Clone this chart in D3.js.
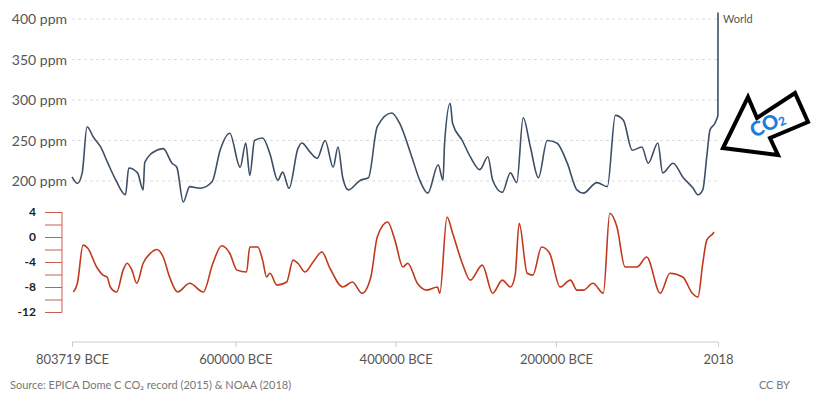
<!DOCTYPE html>
<html>
<head>
<meta charset="utf-8">
<script src="https://cdn.jsdelivr.net/npm/d3@7"></script>
<style>
  body { margin: 0; background: #fff; font-family: Lato, "Open Sans", sans-serif; }
</style>
</head>
<body>
<svg id="chart" width="813" height="411"></svg>
<script>
// thousands of years before 2018 -> value
var co2Kyr = [805.7,799,793,787,779,770,761,751,739,735,724,717,715,700,692,681,675,667,659,646,631,621,609,596,589,584,578,568,559,549,543,535,524,519,509,500,490,480,474,468,461,446,436,425,407,397,382,372,362,349,343,341,334,331,319,309,297,287,281,269,259,251,243,234,224,213,201,188,176,168,151,138,128,118,107,95,87,75,69,56,44,31,25,19,14,10,4,1,0.17,0.1,0.05,0];
var co2Ppm = [205,197,210,267,254,242,222,201,183,216,210,189,223,238,240,222,217,174,193,191,199,238,259,217,247,207,250,253,234,201,211,191,240,247,236,228,250,217,242,204,189,201,204,267,284,271,230,201,185,220,201,247,296,271,250,230,214,230,201,186,210,198,278,242,204,250,247,222,189,185,198,193,281,275,238,242,222,247,210,222,205,191,183,189,230,263,271,278,281,285,310,408];

var tempKyr = [804,799,792,786,775,767,762,758,750,742,737,731,725,717,708,700,692,684,674,659,642,630,619,609,600,588,584,574,568,563,559,550,538,530,524,515,505,494,484,468,456,444,433,425,412,403,393,387,375,363,350,347,338,331,319,309,294,281,269,259,253,248,238,231,220,210,197,184,176,168,156,143,135,126,116,101,89,72,60,44,32,25,19,14,6,5];
var tempVal = [-8.8,-7.4,-1.3,-1.8,-4.8,-6.1,-6.4,-8.0,-8.8,-5.3,-4.2,-5.3,-7.4,-4.2,-2.6,-2.0,-3.2,-6.4,-8.8,-7.4,-8.8,-4.2,-1.4,-2.6,-5.3,-5.6,-1.6,-1.6,-3.7,-6.4,-5.8,-7.7,-7.2,-3.7,-4.2,-5.6,-4.0,-2.4,-5.0,-8.0,-7.2,-9.0,-6.4,0.0,2.4,-0.5,-4.8,-4.2,-7.4,-8.5,-8.0,-9.0,3.2,0.6,-4.2,-6.9,-4.5,-9.0,-6.9,-8.0,-6.1,2.2,-5.8,-6.1,-1.6,-2.6,-8.0,-6.9,-8.5,-8.5,-7.4,-9.0,3.8,1.6,-4.8,-4.8,-3.2,-9.0,-5.8,-6.4,-9.0,-9.6,-4.2,-0.5,0.6,0.8];

var yearTicks = [-803719, -600000, -400000, -200000, 2018];
var yearLabels = ["803719 BCE", "600000 BCE", "400000 BCE", "200000 BCE", "2018"];
var ppmTicks = [200, 250, 300, 350, 400];
var tempTicks = [4, 0, -4, -8, -12];

var svg = d3.select('#chart');
var x = d3.scaleLinear().domain([-803719, 2018]).range([72, 718]);
var yCo2 = d3.scaleLinear().domain([200, 400]).range([181, 19]);
var yTemp = d3.scaleLinear().domain([-12, 4]).range([312, 212]);
var toYear = function(k){ return 2018 - k * 1000; };

// CO2 grid + labels
svg.append('g').selectAll('line').data(ppmTicks).enter().append('line')
  .attr('x1', 72).attr('x2', 718)
  .attr('y1', function(d){ return yCo2(d); }).attr('y2', function(d){ return yCo2(d); })
  .attr('stroke', '#ddd').attr('stroke-dasharray', '3,3');
svg.append('g').selectAll('text').data(ppmTicks).enter().append('text')
  .attr('x', 67).attr('y', function(d){ return yCo2(d) + 5; })
  .attr('text-anchor', 'end').attr('fill', '#555').style('font-size', '14px')
  .text(function(d){ return d + ' ppm'; });

// temperature axis
var tAxis = svg.append('g').attr('transform', 'translate(62,0)')
  .call(d3.axisLeft(yTemp).tickValues(d3.range(-12, 5, 2)).tickSize(17).tickFormat(''));
tAxis.selectAll('line, path').attr('stroke', '#c9604f');
tAxis.select('.domain').attr('d', 'M0,212V312');
svg.append('g').selectAll('text').data(tempTicks).enter().append('text')
  .attr('x', 36).attr('y', function(d){ return yTemp(d) + 4; })
  .attr('text-anchor', 'end').attr('fill', '#222').style('font-weight', 'bold').style('font-size', '12px')
  .text(function(d){ return d; });

// lines
var co2Line = d3.line().curve(d3.curveMonotoneX)
  .x(function(d){ return x(toYear(d[0])); }).y(function(d){ return yCo2(d[1]); });
svg.append('path').datum(d3.zip(co2Kyr, co2Ppm)).attr('d', co2Line)
  .attr('fill', 'none').attr('stroke', '#3d4f66').attr('stroke-width', 1.6);
var tLine = d3.line().curve(d3.curveMonotoneX)
  .x(function(d){ return x(toYear(d[0])); }).y(function(d){ return yTemp(d[1]); });
svg.append('path').datum(d3.zip(tempKyr, tempVal)).attr('d', tLine)
  .attr('fill', 'none').attr('stroke', '#c0391b').attr('stroke-width', 1.6);

svg.append('text').attr('x', 723).attr('y', 23).attr('fill', '#555').style('font-size', '11px').text('World');

// x axis
var xAxis = svg.append('g').attr('transform', 'translate(0,342)')
  .call(d3.axisBottom(x).tickValues(yearTicks).tickSize(5).tickFormat(function(d, i){ return yearLabels[i]; }));
xAxis.selectAll('line, path').attr('stroke', '#ccc');
xAxis.select('.domain').attr('d', 'M72,0H718');
xAxis.selectAll('text').attr('fill', '#555').style('font-size', '13px').style('font-family', 'Lato, sans-serif').attr('dy', '1.1em');

svg.append('text').attr('x', 10).attr('y', 389).attr('fill', '#777').style('font-size', '11px')
  .text('Source: EPICA Dome C CO\u2082 record (2015) & NOAA (2018)');
svg.append('text').attr('x', 790).attr('y', 389).attr('text-anchor', 'end').attr('fill', '#777').style('font-size', '11px').text('CC BY');

// hand-drawn arrow
svg.append('path')
  .attr('d', 'M723,148L748,97L757,118L795,93L808,122L770,138L778,155Z')
  .attr('fill', '#fff').attr('stroke', '#000').attr('stroke-width', 4).attr('stroke-linejoin', 'miter');
svg.append('text').attr('transform', 'translate(754,138) rotate(-25)')
  .attr('fill', '#1a7ee0').style('font-weight', '900').style('font-size', '20px').style('font-family', 'Lato, sans-serif')
  .text('CO').append('tspan').style('font-size', '12px').attr('dy', 1).text('2');
</script>
</body>
</html>
